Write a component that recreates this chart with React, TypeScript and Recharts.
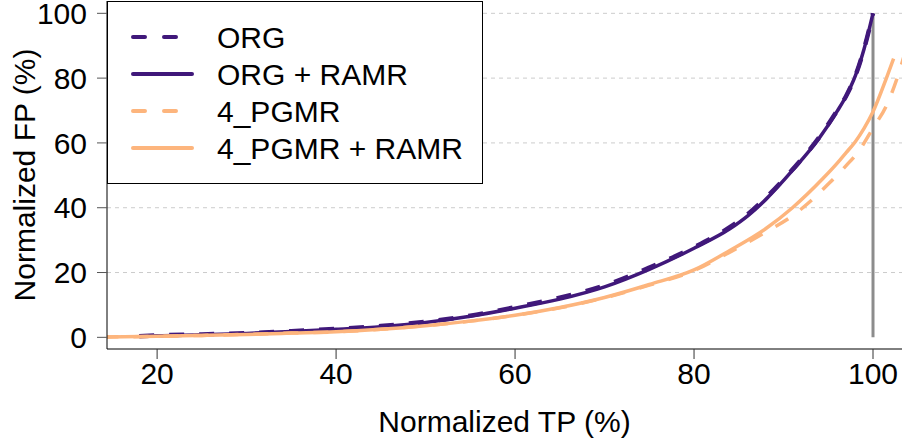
import { LineChart, Line, XAxis, YAxis, CartesianGrid, ReferenceLine, ReferenceArea, Legend, Label } from 'recharts';

// values (TP %, FP %)
const orgTP = [18, 20, 25, 30, 35, 40, 45, 50, 55, 60, 65, 70, 75, 80, 84, 86, 88, 91, 94, 96, 97, 98, 99, 100];
const orgFP = [0.3, 0.6, 0.9, 1.3, 1.9, 2.6, 3.5, 4.8, 6.7, 9.3, 12.2, 16, 21.5, 27.8, 34, 38, 43, 51.8, 61.8, 70, 74.5, 80.5, 89, 100];
const orgRamrFP = [0.3, 0.5, 0.8, 1.2, 1.8, 2.5, 3.3, 4.6, 6.5, 9.0, 11.8, 15.6, 21.0, 27.5, 33.5, 37.5, 42.5, 51.5, 61.5, 69.8, 74.5, 80.5, 89, 100];

const pgmrTP = [14, 20, 25, 30, 35, 40, 45, 50, 55, 60, 65, 70, 75, 80, 84, 88, 91, 93, 95, 97, 98.5, 100, 101.5, 102.7, 103.6];
const pgmrFP = [0.1, 0.3, 0.6, 0.9, 1.3, 1.7, 2.5, 3.6, 5.0, 6.8, 9.1, 12.2, 16.1, 20.6, 26.3, 32.5, 37.5, 42, 47.3, 53, 57.8, 64.6, 71.5, 80, 88];

const pgmrRamrTP = [14, 20, 25, 30, 35, 40, 45, 50, 55, 60, 65, 70, 75, 80, 84, 88, 91, 94.4, 96.3, 97, 98, 99, 100, 101.5, 102.3];
const pgmrRamrFP = [0.1, 0.3, 0.6, 0.9, 1.3, 1.7, 2.5, 3.6, 5.0, 6.8, 9.2, 12.3, 16.3, 20.8, 26.8, 33.5, 40, 49, 54.7, 57, 60.3, 64.5, 69.6, 80, 86];

const xTicks = [20, 40, 60, 80, 100];
const yTicks = [0, 20, 40, 60, 80, 100];
const gridValues = [20, 40, 60, 80, 100];

const PURPLE = '#40187a';
const ORANGE = '#fdb57d';
const FONT = '"Liberation Sans", Arial, sans-serif';
const FS = 30;

const toPoints = (xs: number[], ys: number[]) => xs.map((x, i) => ({ tp: x, fp: ys[i] }));

const series = [
  { name: 'ORG + RAMR', data: toPoints(orgTP, orgRamrFP), color: PURPLE, dashed: false, width: 3.5 },
  { name: 'ORG', data: toPoints(orgTP, orgFP), color: PURPLE, dashed: true, width: 4.5 },
  { name: '4_PGMR', data: toPoints(pgmrTP, pgmrFP), color: ORANGE, dashed: true, width: 3.5 },
  { name: '4_PGMR + RAMR', data: toPoints(pgmrRamrTP, pgmrRamrFP), color: ORANGE, dashed: false, width: 3.5 },
];

const legendOrder = ['ORG', 'ORG + RAMR', '4_PGMR', '4_PGMR + RAMR'];

function LegendBox() {
  return (
    <div style={{ width: 376, height: 183, border: '1px solid #000', background: '#fff', boxSizing: 'border-box' }}>
      <svg width={374} height={181}>
        {legendOrder.map((name, i) => {
          const s = series.find((d) => d.name === name)!;
          const y = 35 + i * 37;
          return (
            <g key={name}>
              <line x1={25} x2={s.dashed ? 72 : 84} y1={y} y2={y} stroke={s.color} strokeWidth={4}
                strokeLinecap="round" strokeDasharray={s.dashed ? '12 19' : undefined} />
              <text x={109} y={y + 11} fontSize={FS} fontFamily={FONT} fill="#000">{name}</text>
            </g>
          );
        })}
      </svg>
    </div>
  );
}

function YTitle(props: any) {
  const { viewBox } = props;
  const cy = viewBox.y + viewBox.height / 2;
  return (
    <text x={35} y={cy} transform={`rotate(-90, 35, ${cy})`} textAnchor="middle"
      fontSize={FS} fontFamily={FONT} fill="#000">
      Normalized FP (%)
    </text>
  );
}

export default function App() {
  return (
    <div style={{ position: 'absolute', left: 0, top: 0, background: '#fff' }}>
      <LineChart width={903} height={442} margin={{ top: 1, right: 1, bottom: 0, left: 0 }}>
        <CartesianGrid vertical={false} horizontalValues={gridValues} stroke="#cccccc" strokeDasharray="4 4" />
        <XAxis
          type="number"
          dataKey="tp"
          domain={[14.4, 103.24]}
          allowDataOverflow
          ticks={xTicks}
          interval={0}
          height={93}
          tickSize={10}
          tickMargin={4}
          stroke="#000"
          tickLine={{ stroke: '#333' }}
          tick={{ fill: '#000', fontSize: FS, fontFamily: FONT }}
        >
          <Label value="Normalized TP (%)" position="insideBottom" offset={10}
            style={{ fill: '#000', fontSize: FS, fontFamily: FONT }} />
        </XAxis>
        <YAxis
          type="number"
          dataKey="fp"
          domain={[-3.6, 103.8]}
          allowDataOverflow
          ticks={yTicks}
          interval={0}
          width={107}
          tickSize={10}
          tickMargin={10}
          stroke="#000"
          tickLine={{ stroke: '#555' }}
          tick={{ fill: '#000', fontSize: FS, fontFamily: FONT }}
        >
          <Label content={<YTitle />} />
        </YAxis>
        <ReferenceArea fill="none" stroke="#000" strokeWidth={1} fillOpacity={0} />
        <ReferenceLine segment={[{ x: 100, y: 0 }, { x: 100, y: 100 }]} stroke="#8c8c8c" strokeWidth={3} />
        {series.map((s) => (
          <Line
            key={s.name}
            name={s.name}
            data={s.data}
            dataKey="fp"
            type="monotone"
            stroke={s.color}
            strokeWidth={s.width}
            strokeDasharray={s.dashed ? '15 15' : undefined}
            dot={false}
            activeDot={false}
            isAnimationActive={false}
          />
        ))}
        <Legend
          layout="vertical"
          align="center"
          verticalAlign="middle"
          wrapperStyle={{ position: 'absolute', left: 107, top: 1, width: 376, height: 183 }}
          content={() => <LegendBox />}
        />
      </LineChart>
    </div>
  );
}
